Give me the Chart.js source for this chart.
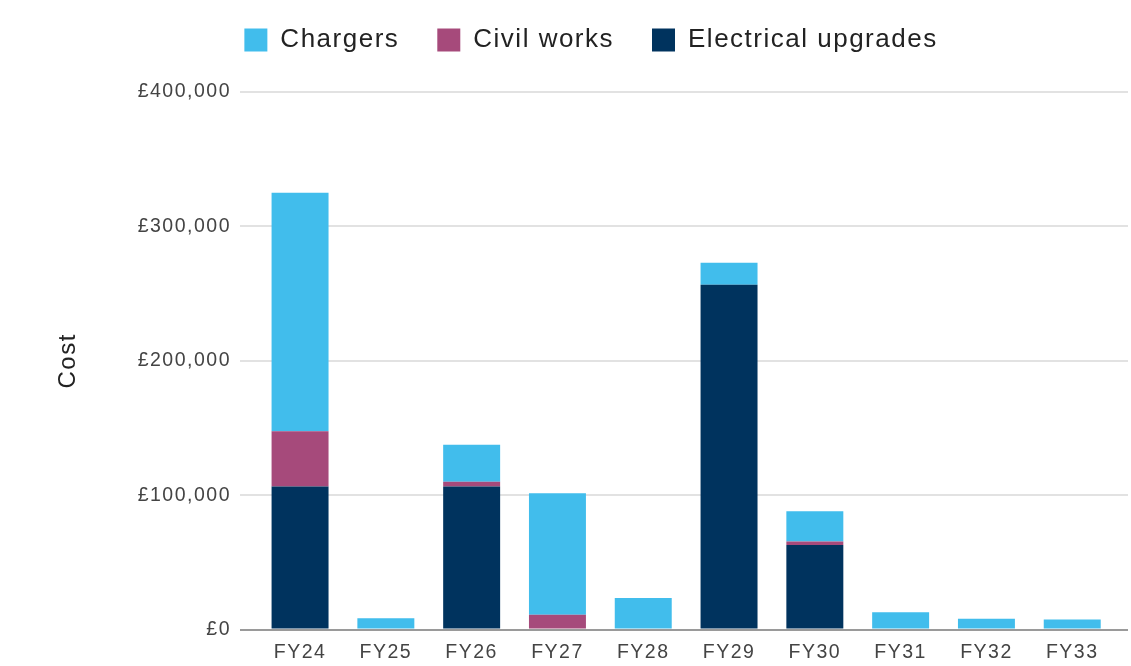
<!DOCTYPE html>
<html>
<head>
<meta charset="utf-8">
<title>Cost by financial year</title>
<script src="https://cdn.jsdelivr.net/npm/chart.js@4.4.1/dist/chart.umd.min.js"></script>
<style>
  html, body { margin: 0; padding: 0; background: #fff; }
  #wrap { width: 1131px; height: 666px; position: relative; }
</style>
</head>
<body>
<div id="wrap"><canvas id="costChart"></canvas></div>
<script>
// financial years and cost per category (GBP)
const years = ["FY24", "FY25", "FY26", "FY27", "FY28", "FY29", "FY30", "FY31", "FY32", "FY33"];
const electrical = [106500, 0, 106500, 0, 0, 256500, 63000, 0, 0, 0];
const civil = [41000, 0, 3500, 11000, 0, 0, 2500, 0, 0, 0];
const chargers = [177500, 8500, 27500, 90500, 23500, 16500, 22500, 13000, 8000, 7500];
const yTicks = [0, 100000, 200000, 300000, 400000];

const COLORS = { chargers: "#41bdec", civil: "#a64a7b", electrical: "#00335e" };

Chart.defaults.font.family = "'Liberation Sans', Arial, sans-serif";

const toPoints = (vals) => vals.map((v, i) => ({ x: i, y: v }));

// slightly wider lettering on every canvas label
const textSpacing = {
  id: "textSpacing",
  beforeUpdate(chart) { chart.ctx.letterSpacing = "1.5px"; },
  beforeDraw(chart) { chart.ctx.letterSpacing = "1.5px"; },
};

// leave some room between legend and plot
const legendGap = {
  id: "legendGap",
  beforeInit(chart) {
    const fit = chart.legend.fit;
    chart.legend.fit = function () { fit.call(this); this.height += 29; };
  },
};

new Chart(document.getElementById("costChart"), {
  type: "bar",
  data: {
    datasets: [
      { label: "Electrical upgrades", data: toPoints(electrical), backgroundColor: COLORS.electrical },
      { label: "Civil works", data: toPoints(civil), backgroundColor: COLORS.civil },
      { label: "Chargers", data: toPoints(chargers), backgroundColor: COLORS.chargers },
    ],
  },
  options: {
    responsive: true,
    maintainAspectRatio: false,
    animation: false,
    barPercentage: 0.664,
    categoryPercentage: 1,
    layout: { padding: { left: 54, right: 3, top: -11, bottom: -9 } },
    scales: {
      x: {
        type: "linear",
        stacked: true,
        offset: false,
        min: -0.7,
        max: 9.65,
        grid: { display: false, drawTicks: false },
        border: { display: false },
        ticks: {
          stepSize: 1,
          includeBounds: false,
          autoSkip: false,
          maxRotation: 0,
          padding: 11,
          color: "#444",
          font: { size: 19.5 },
          callback: (v) => {
            const i = Math.round(v);
            return Math.abs(v - i) < 1e-6 && years[i] ? years[i] : "";
          },
        },
      },
      y: {
        stacked: true,
        min: yTicks[0],
        max: yTicks[yTicks.length - 1],
        afterFit(scale) { scale.width = 186; },
        grid: {
          drawTicks: false,
          lineWidth: 2,
          color: (c) => (c.tick && c.tick.value === 0 ? "#9a9a9a" : "#e2e2e2"),
        },
        border: { display: false },
        ticks: {
          stepSize: yTicks[1] - yTicks[0],
          padding: 9,
          color: "#444",
          font: { size: 19.5 },
          callback: (v) => "£" + v.toLocaleString("en-GB"),
        },
        title: {
          display: true,
          text: "Cost",
          color: "#222",
          font: { size: 24 },
          padding: { top: 0, bottom: 0 },
        },
      },
    },
    plugins: {
      legend: {
        position: "top",
        reverse: true,
        labels: {
          boxWidth: 23,
          boxHeight: 23,
          padding: 38,
          color: "#222",
          font: { size: 26 },
        },
      },
      tooltip: { enabled: false },
    },
  },
  plugins: [textSpacing, legendGap],
});
</script>
</body>
</html>
